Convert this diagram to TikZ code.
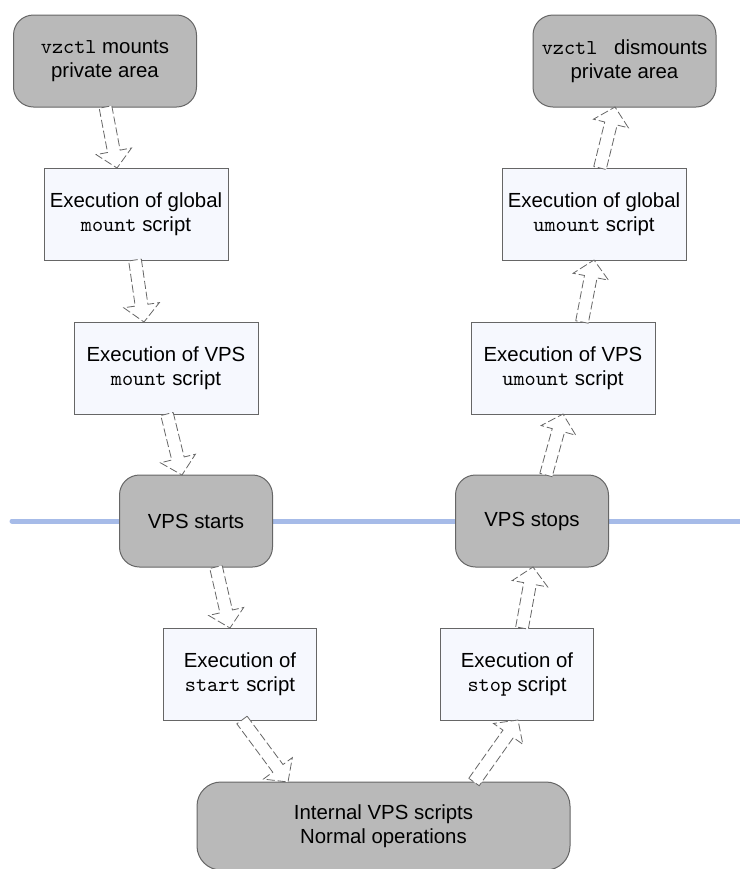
\documentclass[tikz,border=0pt]{standalone}
\usepackage{fontspec}
\setmainfont{Liberation Sans}
\usepackage{tikz}
\usetikzlibrary{calc}
\definecolor{stategray}{HTML}{B9B9B9}
\definecolor{scriptfill}{HTML}{F6F8FE}
\definecolor{edgegray}{HTML}{666666}
\definecolor{timeblue}{HTML}{A6BBE8}
\tikzset{
	% Two node styles: rounded grey states and flat script boxes
	state node/.style={rectangle,rounded corners=10pt,draw=edgegray,fill=stategray,line width=0.5pt,minimum width=91.5pt,minimum height=46pt,inner sep=0pt,outer sep=0pt,align=center},
	script node/.style={rectangle,draw=edgegray,fill=scriptfill,line width=0.5pt,minimum width=92pt,minimum height=46pt,inner sep=0pt,outer sep=0pt,align=center},
	block arrow/.style={draw=edgegray,fill=white,line width=0.4pt,dash pattern=on 4pt off 1.5pt,line join=miter},
	time line/.style={draw=timeblue,line width=2.5pt,line cap=round}
}
% typewriter names of commands and scripts
\newcommand{\cmd}[1]{{\fontsize{10.6}{12}\ttfamily #1}}
% hollow dashed block arrow: start anchor, xshift, end anchor, xshift
\newcommand{\blockarrow}[4]{%
	\coordinate (s) at ($(#1)+(#2,0)$);
	\coordinate (e) at ($(#3)+(#4,0)$);
	\coordinate (h) at ($(e)!8.5pt!(s)$);
	\draw[block arrow] ($(s)!3.2pt!90:(e)$) -- ($(h)!3.2pt!90:(e)$) -- ($(h)!9pt!90:(e)$) -- (e)
		-- ($(h)!9pt!-90:(e)$) -- ($(h)!3.2pt!-90:(e)$) -- ($(s)!3.2pt!-90:(e)$) -- cycle;
}

\begin{document}
\begin{tikzpicture}[x=0.5pt,y=-0.5pt,font=\fontsize{10.2}{12}\selectfont]
			\clip (0,0) rectangle (740,869);
			
			% the line between outside and inside the VPS
			\coordinate (lineL) at (12,521);
			\coordinate (lineR) at (745,521);
			\draw[time line] (lineL) -- (lineR);
			
			% left column: going up
			\node(mnt)[state node] at (105,61) {\cmd{vzctl} mounts\\private area};
			\node(gmnt)[script node] at (136,214) {Execution of global\\\cmd{mount} script};
			\node(vmnt)[script node] at (166,368) {Execution of VPS\\\cmd{mount} script};
			\node(vstart)[state node,minimum width=76.5pt] at (196,521) {VPS starts};
			\node(startsc)[script node,minimum width=76.5pt] at (240,674) {Execution of\\\cmd{start} script};
			
			\node(internal)[state node,rounded corners=12pt,minimum width=186.5pt,minimum height=44pt] at (383.5,826) {Internal VPS scripts\\Normal operations};
			
			% right column: going down
			\node(stopsc)[script node,minimum width=76.5pt] at (517,674) {Execution of\\\cmd{stop} script};
			\node(vstop)[state node,minimum width=76.5pt] at (532,521) {VPS stops};
			\node(vumnt)[script node] at (563,368) {Execution of VPS\\\cmd{umount} script};
			\node(gumnt)[script node] at (594,214) {Execution of global\\\cmd{umount} script};
			\node(umnt)[state node] at (624.5,61) {\cmd{vzctl\ } dismounts\\private area};
			
			\blockarrow{mnt.south}{0.5}{gmnt.north}{-19}
			\blockarrow{gmnt.south}{-1}{vmnt.north}{-22}
			\blockarrow{vmnt.south}{1}{vstart.north}{-14}
			\blockarrow{vstart.south}{20}{startsc.north}{-10}
			\blockarrow{startsc.south}{2}{internal.north}{-95.5}
			\blockarrow{internal.north}{90.5}{stopsc.south}{1}
			\blockarrow{stopsc.north}{5}{vstop.south}{1}
			\blockarrow{vstop.north}{14}{vumnt.south}{0}
			\blockarrow{vumnt.north}{19}{gumnt.south}{0}
			\blockarrow{gumnt.north}{6}{umnt.south}{-9.5}
		\end{tikzpicture}
\end{document}
